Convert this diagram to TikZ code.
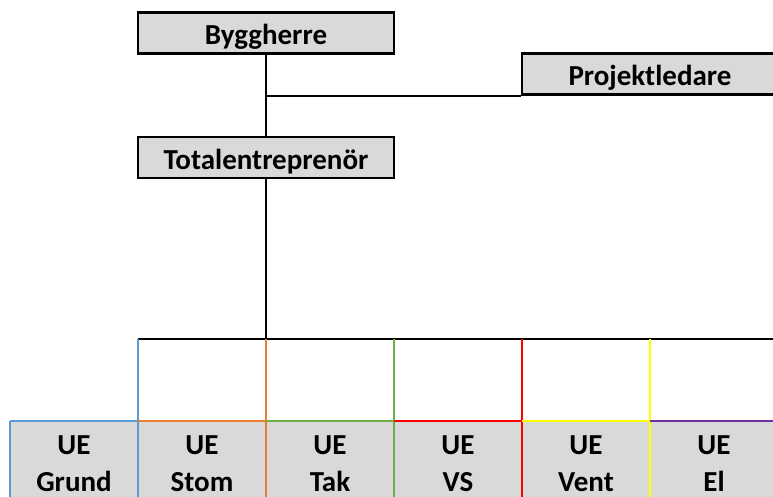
\documentclass[tikz,border=0pt]{standalone}
\usepackage{fontspec}
\setmainfont{Carlito}
\usetikzlibrary{positioning}
\definecolor{boxgray}{HTML}{D9D9D9}
\definecolor{ueblue}{HTML}{5B9BD5}
\definecolor{ueorange}{HTML}{ED7D31}
\definecolor{uegreen}{HTML}{70AD47}
\definecolor{uered}{HTML}{FF0000}
\definecolor{ueyellow}{HTML}{FFFF00}
\definecolor{uepurple}{HTML}{7030A0}
\begin{document}
\begin{tikzpicture}[
  x = 1pt, y = -1pt,
  font = \fontsize{29}{37}\selectfont\bfseries,
  box/.style = {rectangle, draw, fill = boxgray, line width = 2.5pt, inner sep = 0pt, minimum height = 41pt, text height = 28pt, text depth = 4pt},
  uebox/.style = {rectangle, fill = boxgray, inner sep = 0pt, minimum width = 128pt, minimum height = 84pt, anchor = north, align = center},
  link/.style = {line width = 2pt},
  edge/.style = {line width = 2pt}
]
  \clip (0,0) rectangle (773,497);

  \node[box, minimum width = 256pt] (bh) at (266, 33)    {Byggherre};
  \node[box, minimum width = 268pt] (pl) at (656, 74)    {\hspace*{-12pt}Projektledare};
  \node[box, minimum width = 256pt] (te) at (266, 157.5) {Totalentreprenör};

  \coordinate (tap)  at (bh.south |- pl.south);
  \coordinate (bus)  at (266, 339);
  \coordinate (busL) at (138, 339);
  \coordinate (busR) at (790, 339);

  \draw[link] (bh) -- (te);
  \draw[link] (tap) -- (pl.south west);
  \draw[link] (te) -- (bus);
  \draw[link] (busL) -- (busR);

  \foreach \name/\lab [count = \i] in {grund/Grund, stom/Stom, tak/Tak, vs/VS, vent/Vent, el/El}
    \node[uebox] (\name) at ({128*\i - 54}, 421) {UE\\\lab};

  \foreach \name/\col in {grund/ueblue, stom/ueorange, tak/uegreen, vs/uered, vent/ueyellow, el/uepurple}
  {
    \draw[edge, \col] (\name.north west) -- (\name.north east);
    \draw[edge, \col] (\name.north east |- bus) -- (\name.south east);
  }
  \draw[edge, ueblue] (grund.north west) -- (grund.south west);
\end{tikzpicture}
\end{document}
